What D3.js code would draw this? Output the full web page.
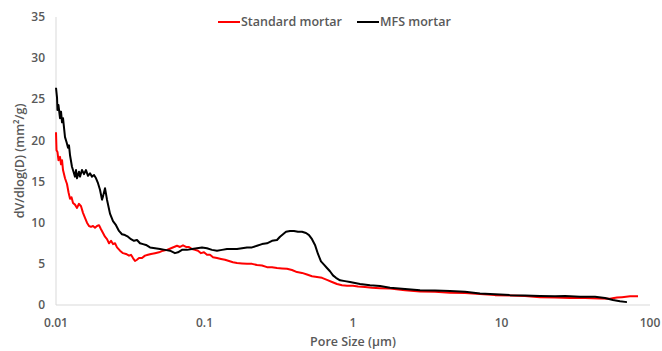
<!DOCTYPE html>
<html><head><meta charset="utf-8">
<script src="https://cdn.jsdelivr.net/npm/d3@7"></script>
<style>body{margin:0;background:#fff}</style>
</head><body>
<svg id="chart" width="662" height="351"></svg>
<script>
const seriesNames = ["Standard mortar", "MFS mortar"];
const seriesColors = ["#ff0000", "#000000"];
const xTicks = [0.01, 0.1, 1, 10, 100];
const xTickLabels = ["0.01", "0.1", "1", "10", "100"];
const yTicks = [0, 5, 10, 15, 20, 25, 30, 35];

const mfsSize = [0.0100,0.01016,0.01023,0.01039,0.01064,0.01081,0.01098,0.01115,0.01150,0.01177,0.01205,0.01223,0.01243,0.01281,0.01312,0.01342,0.01364,0.01385,0.01428,0.01451,0.01496,0.01544,0.01592,0.01642,0.01694,0.01747,0.01803,0.01860,0.01918,0.01978,0.02041,0.02073,0.02138,0.02205,0.02310,0.02420,0.02535,0.02655,0.02781,0.02914,0.03053,0.03199,0.03351,0.03511,0.03678,0.03854,0.04037,0.04295,0.04642,0.05016,0.05420,0.05857,0.06327,0.06628,0.07055,0.07624,0.08237,0.08901,0.09620,0.1039,0.1123,0.1214,0.1312,0.1417,0.1532,0.1655,0.1789,0.1933,0.2089,0.2257,0.2438,0.2636,0.2848,0.3077,0.3224,0.3378,0.3538,0.3765,0.4005,0.4262,0.4535,0.4826,0.5056,0.5296,0.5547,0.5811,0.6087,0.6376,0.6679,0.6997,0.7330,0.7679,0.8176,0.8834,0.9546,1.115,1.302,1.520,1.775,2.240,2.827,3.566,4.500,5.678,7.166,9.042,11.41,14.40,18.17,22.93,26.77,33.78,42.62,49.77,56.34,62.81,69.98];
const mfsValue = [26.4,25.2,23.7,24.3,22.7,23.5,22.2,22.7,20.4,19.8,19.1,19.4,18.2,16.8,16.2,15.6,16.4,15.4,16.2,15.6,16.4,15.9,16.4,15.7,16.0,15.6,15.8,15.4,14.8,14.0,12.8,13.2,14.2,12.8,11.1,10.2,9.7,9.0,8.6,8.5,8.3,8.0,7.8,7.9,7.5,7.4,7.3,7.0,6.9,6.8,6.7,6.6,6.3,6.4,6.7,6.7,6.8,6.9,7.0,6.9,6.7,6.6,6.7,6.8,6.8,6.8,6.9,7.0,7.0,7.2,7.4,7.5,7.8,7.9,8.3,8.6,8.9,9.0,9.0,8.9,8.9,8.75,8.5,8.0,7.3,6.2,5.3,4.9,4.5,4.1,3.6,3.3,3.0,2.9,2.8,2.55,2.4,2.3,2.1,1.95,1.8,1.75,1.7,1.6,1.4,1.3,1.2,1.15,1.1,1.05,1.1,1.0,1.0,0.85,0.6,0.45,0.35];

const stdSize = [0.0100,0.01008,0.01023,0.01039,0.01064,0.01081,0.01098,0.01115,0.01150,0.01186,0.01214,0.01243,0.01272,0.01302,0.01342,0.01385,0.01428,0.01474,0.01520,0.01568,0.01617,0.01668,0.01720,0.01775,0.01831,0.01888,0.01948,0.02009,0.02073,0.02138,0.02205,0.02275,0.02347,0.02420,0.02497,0.02576,0.02698,0.02827,0.02961,0.03102,0.03199,0.03300,0.03404,0.03511,0.03622,0.03794,0.03974,0.04164,0.04362,0.04642,0.04939,0.05255,0.05591,0.05949,0.06233,0.06529,0.06840,0.07166,0.07508,0.07865,0.08237,0.08630,0.09042,0.09472,0.09922,0.1039,0.1089,0.1141,0.1214,0.1292,0.1374,0.1462,0.1555,0.1655,0.1789,0.1933,0.2089,0.2257,0.2438,0.2636,0.2848,0.3077,0.3325,0.3593,0.3882,0.4196,0.4535,0.4900,0.5296,0.5722,0.6183,0.6679,0.7221,0.7804,0.8431,0.9112,1.0,1.080,1.205,1.342,1.520,1.775,2.240,2.827,3.566,4.500,5.678,7.166,9.042,11.41,14.40,18.17,22.93,28.93,36.50,46.06,53.79,57.24,59.97,64.80,73.36,83.04];
const stdValue = [21.0,18.8,18.6,17.6,18.0,17.1,17.6,16.4,15.4,14.7,13.7,12.9,13.1,12.4,12.2,11.8,12.3,12.0,11.2,10.6,10.0,9.6,9.5,9.6,9.4,9.6,9.7,9.2,8.75,8.3,8.0,7.5,7.8,7.4,7.5,7.0,6.6,6.3,6.2,6.0,6.1,5.7,5.35,5.5,5.7,5.7,6.0,6.1,6.2,6.3,6.4,6.6,6.7,6.9,7.05,7.2,7.05,7.25,7.05,7.05,6.8,6.7,6.6,6.3,6.4,6.1,6.1,5.8,5.7,5.6,5.5,5.35,5.2,5.1,5.05,5.0,5.0,4.85,4.8,4.6,4.6,4.5,4.45,4.4,4.25,4.0,3.9,3.7,3.5,3.4,3.3,3.05,2.8,2.55,2.4,2.35,2.35,2.25,2.2,2.1,2.05,2.0,1.8,1.65,1.6,1.5,1.45,1.35,1.2,1.15,1.1,0.95,0.9,0.85,0.85,0.8,0.75,0.85,0.9,0.95,1.05,1.05];

const svg = d3.select("#chart");
const mLeft = 56, mRight = 650, mTop = 17, mBottom = 305;
const x = d3.scaleLog().domain([0.01, 100]).range([mLeft, mRight]);
const y = d3.scaleLinear().domain([0, 35]).range([mBottom, mTop]);
const font = "'Open Sans', sans-serif";
const gray = "#595959";

svg.append("line").attr("x1", mLeft).attr("x2", mLeft).attr("y1", y(35)).attr("y2", y(0))
  .attr("stroke", "#d9d9d9").attr("stroke-width", 1);
svg.append("line").attr("x1", mLeft).attr("x2", mRight).attr("y1", y(0)).attr("y2", y(0))
  .attr("stroke", "#d9d9d9").attr("stroke-width", 1);

svg.append("g").selectAll("text").data(yTicks).join("text")
  .attr("x", 45).attr("y", d => y(d)).attr("dy", "0.35em")
  .attr("text-anchor", "end").attr("font-family", font).attr("font-weight", 600)
  .attr("font-size", 12).attr("fill", gray).text(d => d);

svg.append("g").selectAll("text").data(xTicks).join("text")
  .attr("x", d => x(d)).attr("y", 323).attr("dy", "0.35em")
  .attr("text-anchor", "middle").attr("font-family", font).attr("font-weight", 600)
  .attr("font-size", 12).attr("fill", gray).text((d, i) => xTickLabels[i]);

svg.append("text").attr("x", 353).attr("y", 346).attr("text-anchor", "middle")
  .attr("font-family", font).attr("font-weight", 600).attr("font-size", 12.5)
  .attr("fill", gray).text("Pore Size (µm)");
svg.append("text").attr("transform", "translate(24,161) rotate(-90)").attr("text-anchor", "middle")
  .attr("font-family", font).attr("font-weight", 600).attr("font-size", 12.5)
  .attr("fill", gray).text("dV/dlog(D) (mm²/g)");

const line = d3.line().x(d => x(d[0])).y(d => y(d[1]));
const stdData = stdSize.map((s, i) => [s, stdValue[i]]);
const mfsData = mfsSize.map((s, i) => [s, mfsValue[i]]);

svg.append("path").datum(stdData).attr("d", line).attr("fill", "none")
  .attr("stroke", seriesColors[0]).attr("stroke-width", 2).attr("stroke-linejoin", "round");
svg.append("path").datum(mfsData).attr("d", line).attr("fill", "none")
  .attr("stroke", seriesColors[1]).attr("stroke-width", 2).attr("stroke-linejoin", "round");

const legX = [218, 357];
seriesNames.forEach((n, i) => {
  svg.append("line").attr("x1", legX[i]).attr("x2", legX[i] + 22).attr("y1", 22).attr("y2", 22)
    .attr("stroke", seriesColors[i]).attr("stroke-width", 2);
  svg.append("text").attr("x", legX[i] + 23).attr("y", 22).attr("dy", "0.35em")
    .attr("font-family", font).attr("font-weight", 600).attr("font-size", 12.5)
    .attr("fill", gray).text(n);
});
</script>
</body></html>
